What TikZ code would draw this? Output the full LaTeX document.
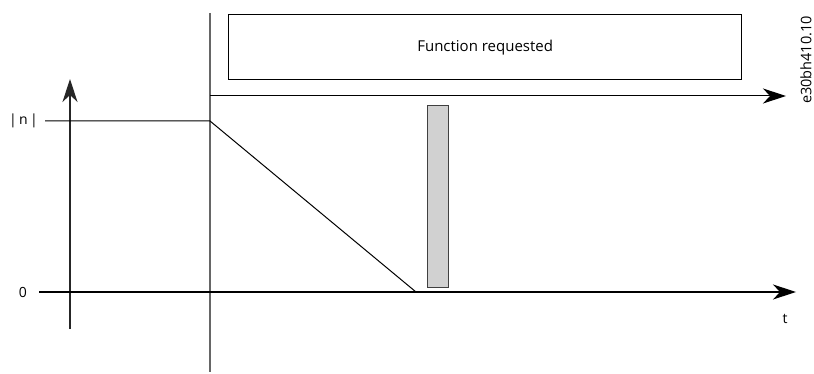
\documentclass[tikz,border=0pt]{standalone}
\usepackage{fontspec}
\setmainfont{Open Sans}
\usetikzlibrary{arrows.meta}
\begin{document}
\begin{tikzpicture}[x=1pt,y=-1pt,
  axis/.style={line width=1.2pt,-{Stealth[length=23pt,width=15pt,inset=7pt]}},
  thin/.style={line width=1pt},
  lbl/.style={font=\fontsize{14pt}{16pt}\selectfont, inner sep=0pt}]
\useasboundingbox (0,0) rectangle (814,374);
% coordinates
\coordinate (yb) at (70,329);
\coordinate (yt) at (70,79);
\coordinate (nl) at (45,121);
\coordinate (nr) at (210,121);
\coordinate (vt) at (210,13);
\coordinate (vb) at (210,372);
\coordinate (ul) at (210,96);
\coordinate (ur) at (786,96);
\coordinate (zl) at (39,292);
\coordinate (zr) at (796,292);
\coordinate (se) at (416,292);
% nodes
\node[draw, line width=1.3pt, minimum width=513pt, minimum height=65pt, anchor=north west, inner sep=0pt] (box) at (228,14) {};
\node[lbl, font=\fontsize{15pt}{18pt}\selectfont] (ft) at (box.center) {Function requested};
\node[draw=black!75, fill=black!18, line width=1pt, minimum width=21pt, minimum height=182pt, anchor=north west, inner sep=0pt] (bar) at (427,105) {};
\node[lbl, anchor=east] (n) at (38,121) {|\,n\,|};
\node[lbl] (z) at (23,292) {0};
\node[lbl] (t) at (785,319) {t};
\node[lbl, font=\fontsize{14.5pt}{16pt}\selectfont, rotate=90] (code) at (806,60) {e30bh410.10};
% lines
\draw[draw=black!60, line width=1.1pt] (vt) -- (vb);
\draw[axis, draw=black!85] (yb) -- (yt);
\draw[thin] (nl) -- (nr) -- (se);
\draw[axis, line width=1pt] (ul) -- (ur);
\draw[axis] (zl) -- (zr);
\end{tikzpicture}
\end{document}
